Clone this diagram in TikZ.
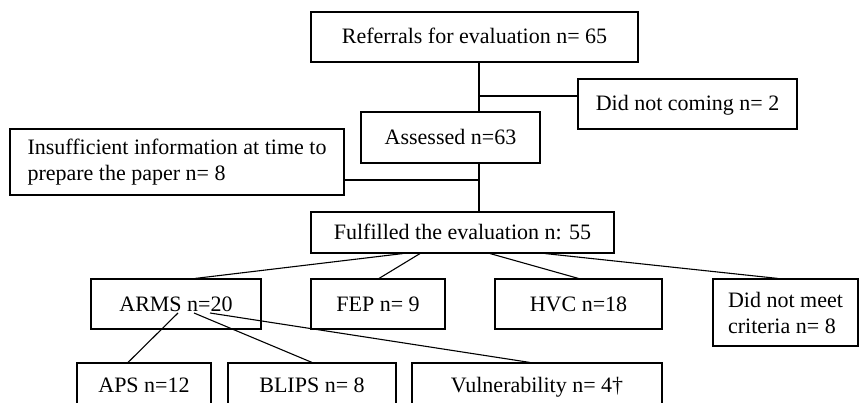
\documentclass[tikz,border=0pt]{standalone}
\usepackage{fontspec}
\setmainfont{Liberation Serif}
\tikzset{
  box/.style={draw, line width=1.1pt, inner sep=0pt, minimum height=50pt,
    font=\fontsize{22}{26}\selectfont},
  oneline/.style={text height=17pt, text depth=3pt},
  link/.style={line width=1.1pt}
}
\begin{document}
\begin{tikzpicture}[x=1pt, y=-1pt]
            \clip (0,0) rectangle (859,403);
            \fill[white] (0,0) rectangle (859,403);
            \coordinate (trunk) at (479,0);
            % top part
            \node[box, oneline, minimum width=327pt] (ref) at (474.5,37) {Referrals for evaluation n= 65};
            \node[box, oneline, minimum width=219pt] (nocome) at (687.5,104) {Did not coming n= 2};
            \node[box, oneline, minimum width=179pt, minimum height=51pt] (assess) at (450.5,137.5) {Assessed n=63};
            \node[box, minimum width=334pt, minimum height=66pt, align=left] (insuf) at (177,162)
                {Insufficient information at time to\\prepare the paper n= 8};
            \node[box, oneline, minimum width=303pt, minimum height=41pt] (fulf) at (462.5,232.5) {Fulfilled the evaluation n: 55};
            % second row
            \node[box, oneline, minimum width=170pt] (arms) at (176,304) {ARMS n=20};
            \node[box, oneline, minimum width=134pt] (fep) at (378,304) {FEP n= 9};
            \node[box, oneline, minimum width=167pt] (hvc) at (578.5,304) {HVC n=18};
            \node[box, minimum width=145pt, minimum height=67pt, align=left] (dnm) at (785.5,312.5)
                {Did not meet\\criteria n= 8};
            % bottom row
            \node[box, oneline, minimum width=134pt, minimum height=44pt] (aps) at (144,385) {APS n=12};
            \node[box, oneline, minimum width=168pt, minimum height=44pt] (blips) at (312,385) {BLIPS n= 8};
            \node[box, oneline, minimum width=250pt, minimum height=44pt] (vuln) at (537,385) {Vulnerability n= 4\textdagger};
            \draw[link] (ref.south -| trunk) -- (assess.north -| trunk);
            \draw[link] ([yshift=8pt]nocome.west) -- ([yshift=8pt]nocome.west -| trunk);
            \draw[link] (assess.south -| trunk) -- (fulf.north -| trunk);
            \draw[link] ([yshift=-18pt]insuf.east) -- ([yshift=-18pt]insuf.east -| trunk);
            \draw[link] ([xshift=-59.5pt]fulf.south) -- ([xshift=19pt]arms.north);
            \draw[link] ([xshift=-42.5pt]fulf.south) -- ([xshift=1pt]fep.north);
            \draw[link] ([xshift=27.5pt]fulf.south) -- (hvc.north);
            \draw[link] ([xshift=82.5pt]fulf.south) -- ([xshift=-7.5pt]dnm.north);
            % \draw[link] (arms.south) -- (aps.north);
            \draw[link] ([xshift=2pt,yshift=-9pt]arms.center) -- ([xshift=-16pt]aps.north);
            \draw[link] ([xshift=18pt,yshift=-9pt]arms.center) -- (blips.north);
            \draw[link] ([xshift=34pt,yshift=-9pt]arms.center) -- ([xshift=-7pt]vuln.north);
        \end{tikzpicture}
\end{document}
